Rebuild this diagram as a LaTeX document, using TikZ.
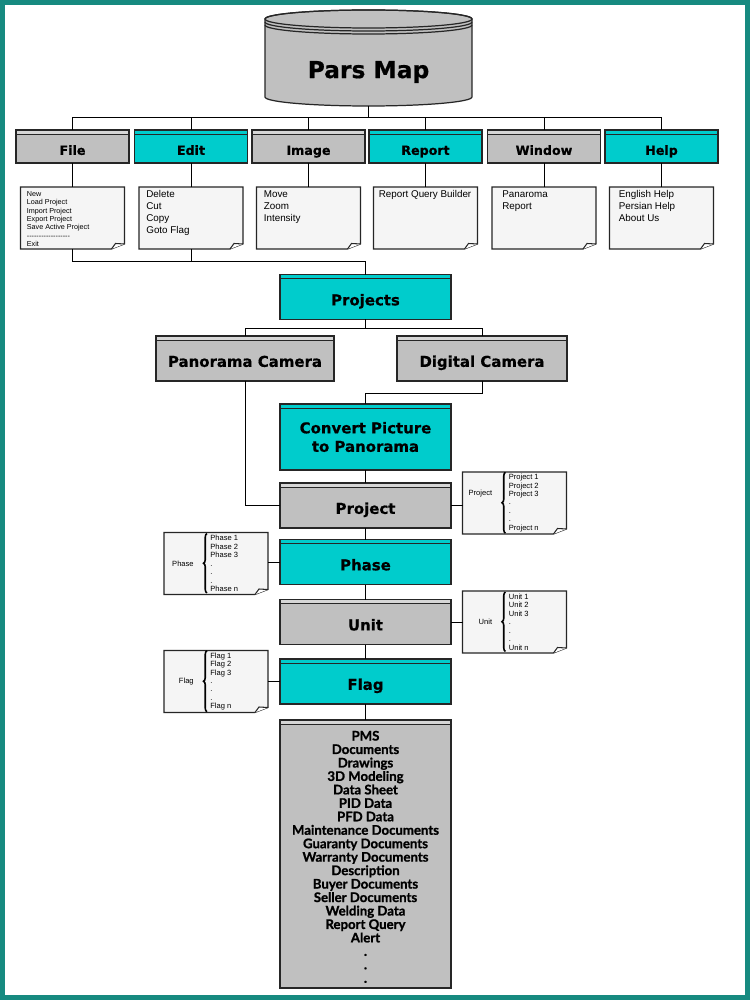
\documentclass[tikz,border=0pt]{standalone}
\usepackage{fontspec}
\newfontfamily\boxfont{DejaVu Sans}[BoldFeatures={FakeBold=0.6}]
\newfontfamily\notefont{Liberation Sans}
\newfontfamily\listfont{Lato}[BoldFeatures={FakeBold=1.2}]
\usetikzlibrary{calc,decorations.pathreplacing}

\definecolor{frameteal}{RGB}{22,138,128}
\definecolor{boxteal}{RGB}{0,204,204}
\definecolor{boxgray}{RGB}{192,192,192}
\definecolor{bandgray}{RGB}{214,214,214}
\definecolor{notefill}{RGB}{245,245,245}

\tikzset{
  box/.style={draw=black!85, line width=0.7pt, inner sep=0pt, outer sep=0pt,
    minimum width=3.42cm, minimum height=0.9cm, align=center,
    font=\boxfont\bfseries\fontsize{8.5}{10.5}\selectfont},
  oneline/.style={text height=1.05em, text depth=0.1em},
  graybox/.style={box, fill=boxgray,
    path picture={\fill[bandgray] (path picture bounding box.north west) rectangle ([yshift=-0.08cm]path picture bounding box.north east);
      \draw[line width=0.5pt] ([yshift=-0.08cm]path picture bounding box.north west) -- ([yshift=-0.08cm]path picture bounding box.north east);}},
  tealbox/.style={box, fill=boxteal,
    path picture={\draw[line width=0.5pt] ([yshift=-0.08cm]path picture bounding box.north west) -- ([yshift=-0.08cm]path picture bounding box.north east);}},
  menu/.style={oneline, minimum width=2.26cm, minimum height=0.66cm,
    font=\boxfont\bfseries\fontsize{7.2}{8}\selectfont},
  note/.style={inner sep=0pt, outer sep=0pt, minimum width=2.08cm, minimum height=1.24cm},
  notetext/.style={inner sep=0pt, align=left, anchor=north west,
    font=\notefont\fontsize{5.6}{6.8}\selectfont},
  bracetext/.style={inner sep=0pt, font=\notefont\fontsize{4.3}{4.8}\selectfont},
  curly/.style={decorate, decoration={brace, amplitude=0.07cm}, line width=0.9pt},
  wire/.style={draw=black, line width=0.5pt},
  noteline/.style={draw=black!85, line width=0.6pt},
  cylline/.style={draw=black!85, line width=0.7pt},
}

% page with a curled corner, drawn round an empty node
\newcommand\curlnote[1]{%
  \filldraw[noteline, fill=notefill] (#1.north west) -- (#1.north east)
    -- ([yshift=0.1cm]#1.south east) -- ([xshift=-0.26cm]#1.south east)
    -- (#1.south west) -- cycle;
  \filldraw[noteline, fill=white] ([xshift=-0.26cm]#1.south east)
    -- ([xshift=-0.18cm, yshift=0.11cm]#1.south east) -- ([yshift=0.1cm]#1.south east);}

\begin{document}
\begin{tikzpicture}[x=0.02cm, y=-0.02cm]
\useasboundingbox (0,0) rectangle (750,1000);
\fill[frameteal] (0,0) rectangle (750,1000);
\fill[white] (5,5) rectangle (745,995);

% cylinder
\filldraw[cylline, fill=boxgray] (265,19) -- (265,97)
  arc[start angle=180, end angle=360, x radius=2.07cm, y radius=0.18cm]
  -- (472,19) arc[start angle=0, end angle=180, x radius=2.07cm, y radius=0.18cm] -- cycle;
\draw[cylline] (368.5,19) ellipse[x radius=2.07cm, y radius=0.18cm];
\draw[cylline] (265,22) arc[start angle=180, end angle=360, x radius=2.07cm, y radius=0.18cm];
\draw[cylline] (265,25) arc[start angle=180, end angle=360, x radius=2.07cm, y radius=0.18cm];
\node[font=\boxfont\bfseries\fontsize{13.3}{15}\selectfont] (parsmap) at (368.5,72) {Pars Map};
\coordinate (mapbot) at (368.5,106);
\coordinate (bus) at (368.5,117);
\draw[wire] (mapbot) -- (bus);

% menu row
\foreach \name/\lbl/\cx/\kind in {file/File/72.5/graybox, edit/Edit/191/tealbox,
    image/Image/308.5/graybox, report/Report/425.5/tealbox,
    window/Window/544/graybox, help/Help/661.5/tealbox}{
  \node[\kind, menu] (\name) at (\cx,146.5) {\lbl};
  \draw[wire] (\name.north) |- (bus);
  \node[note] (\name note) at (\cx,218) {};
  \curlnote{\name note}
  \draw[wire] (\name.south) -- (\name note.north);
}

\node[notetext, font=\notefont\fontsize{4.1}{4.75}\selectfont] (filetext)
  at ([xshift=0.12cm, yshift=-0.08cm]filenote.north west)
  {New\\Load Project\\Import Project\\Export Project\\Save Active Project\\
   -{}-{}-{}-{}-{}-{}-{}-{}-{}-{}-{}-{}-{}-{}-{}-{}-{}-\\Exit};
\node[notetext] (edittext) at ([xshift=0.14cm, yshift=-0.07cm]editnote.north west)
  {Delete\\Cut\\Copy\\Goto Flag};
\node[notetext] (imagetext) at ([xshift=0.14cm, yshift=-0.07cm]imagenote.north west)
  {Move\\Zoom\\Intensity};
\node[notetext] (reporttext) at ([xshift=0.1cm, yshift=-0.07cm]reportnote.north west)
  {Report Query Builder};
\node[notetext] (windowtext) at ([xshift=0.2cm, yshift=-0.07cm]windownote.north west)
  {Panaroma\\Report};
\node[notetext] (helptext) at ([xshift=0.18cm, yshift=-0.07cm]helpnote.north west)
  {English Help\\Persian Help\\About Us};

% projects and cameras
\node[tealbox, oneline] (projects) at (365.5,297) {Projects};
\coordinate (notebus) at (365.5,261);
\draw[wire] (filenote.south) |- (notebus) -- (projects.north);
\draw[wire] (editnote.south) -- (editnote.south |- notebus);

\node[graybox, oneline, minimum width=3.56cm] (pancam) at (245,358.5) {Panorama Camera};
\node[graybox, oneline, minimum width=3.4cm] (digcam) at (482,358.5) {Digital Camera};
\coordinate (camfork) at (365.5,328);
\draw[wire] (projects.south) -- (camfork) -| (pancam.north);
\draw[wire] (camfork) -| (digcam.north);

\node[tealbox, minimum height=1.32cm] (convert) at (365.5,437) {Convert Picture\\to Panorama};
\draw[wire] (digcam.south) -- ++(0,12) -| (convert.north);

% project tree
\node[graybox, oneline] (project) at (365.5,505.5) {Project};
\node[tealbox, oneline] (phase) at (365.5,562) {Phase};
\node[graybox, oneline] (unit) at (365.5,622) {Unit};
\node[tealbox, oneline] (flag) at (365.5,681.5) {Flag};
\node[graybox, minimum height=5.36cm] (data) at (365.5,854) {};
\node[anchor=north, inner sep=0pt, align=center,
  font=\listfont\bfseries\fontsize{7.5}{7.66}\selectfont] (datalist) at ([yshift=-0.21cm]data.north)
  {PMS\\Documents\\Drawings\\3D Modeling\\Data Sheet\\PID Data\\PFD Data\\
   Maintenance Documents\\Guaranty Documents\\Warranty Documents\\Description\\
   Buyer Documents\\Seller Documents\\Welding Data\\Report Query\\Alert\\.\\.\\.};

\draw[wire] (pancam.south) |- (project.west);
\draw[wire] (convert.south) -- (project.north);
\draw[wire] (project.south) -- (phase.north);
\draw[wire] (phase.south) -- (unit.north);
\draw[wire] (unit.south) -- (flag.north);
\draw[wire] (flag.south) -- (data.north);

% side notes
\foreach \name/\lbl/\cx/\cy/\up in {project/Project/514.5/503/0.18cm, phase/Phase/216/563.5/0cm,
    unit/Unit/514.5/622/0cm, flag/Flag/216/681.5/0cm}{
  \node[note] (\name note) at (\cx,\cy) {};
  \curlnote{\name note}
  \node[bracetext, anchor=west, align=left] (\name items) at ([xshift=0.92cm]\name note.west)
    {\lbl\ 1\\\lbl\ 2\\\lbl\ 3\\.\\.\\.\\\lbl\ n};
  \draw[curly] ([xshift=-0.06cm, yshift=-0.02cm]\name items.south west) -- ([xshift=-0.06cm, yshift=0.03cm]\name items.north west);
  \node[bracetext, anchor=east] (\name label) at ([xshift=-0.32cm, yshift=\up]\name items.west) {\lbl};
}

\draw[wire] (project.east) -- (project.east -| projectnote.west);
\draw[wire] (phase.west) -- (phase.west -| phasenote.east);
\draw[wire] (unit.east) -- (unit.east -| unitnote.west);
\draw[wire] (flag.west) -- (flag.west -| flagnote.east);
\end{tikzpicture}
\end{document}
